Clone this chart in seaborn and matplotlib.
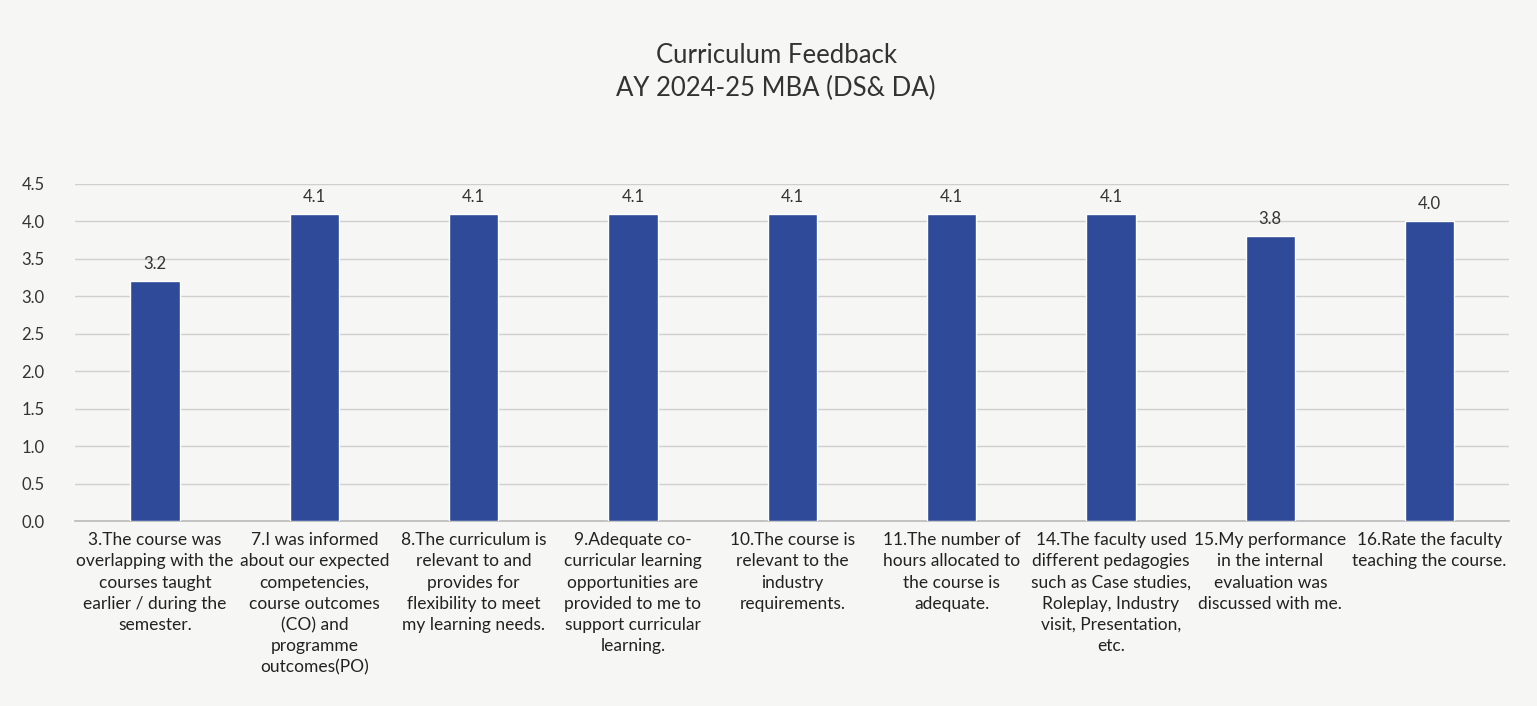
import matplotlib
matplotlib.use("Agg")
import matplotlib.pyplot as plt
import seaborn as sns
import pandas as pd

title = "Curriculum Feedback\nAY 2024-25 MBA (DS& DA)"
categories = [
    "3.The course was\noverlapping with the\ncourses taught\nearlier / during the\nsemester.",
    "7.I was informed\nabout our expected\ncompetencies,\ncourse outcomes\n(CO) and\nprogramme\noutcomes(PO)",
    "8.The curriculum is\nrelevant to and\nprovides for\nflexibility to meet\nmy learning needs.",
    "9.Adequate co-\ncurricular learning\nopportunities are\nprovided to me to\nsupport curricular\nlearning.",
    "10.The course is\nrelevant to the\nindustry\nrequirements.",
    "11.The number of\nhours allocated to\nthe course is\nadequate.",
    "14.The faculty used\ndifferent pedagogies\nsuch as Case studies,\nRoleplay, Industry\nvisit, Presentation,\netc.",
    "15.My performance\nin the internal\nevaluation was\ndiscussed with me.",
    "16.Rate the faculty\nteaching the course.",
]
values = [3.2, 4.1, 4.1, 4.1, 4.1, 4.1, 4.1, 3.8, 4.0]
yticks = [0.0, 0.5, 1.0, 1.5, 2.0, 2.5, 3.0, 3.5, 4.0, 4.5]

sns.set_theme(style="white")
plt.rcParams['font.family'] = ['Lato', 'DejaVu Sans']

df = pd.DataFrame({"q": categories, "v": values})
bg = "#f6f6f4"
fig = plt.figure(figsize=(15.37, 7.06), dpi=100, facecolor=bg)
ax = fig.add_axes([0.049, 0.262, 0.933, 0.478], facecolor=bg)

sns.barplot(data=df, x="q", y="v", color="#2e4a98", width=0.31, ax=ax,
            saturation=1, zorder=3)
ax.set_ylim(0, 4.5)
ax.set_yticks(yticks)
ax.set_yticklabels([f"{t:.1f}" for t in yticks], fontsize=12, color="#333333")
ax.yaxis.grid(True, color="#cfcfcf", linewidth=1, zorder=0)
ax.set_xlabel("")
ax.set_ylabel("")
for s in ["top", "right", "left"]:
    ax.spines[s].set_visible(False)
ax.spines["bottom"].set_color("#bdbdbd")
ax.tick_params(axis="both", length=0)
ax.tick_params(axis="y", pad=22)
ax.set_xticks(range(len(categories)))
ax.set_xticklabels(categories, fontsize=12.5, color="#222222", linespacing=1.4, ha="center")
ax.tick_params(axis="x", pad=8)

for i, v in enumerate(values):
    ax.text(i, v + 0.12, f"{v:.1f}", ha="center", va="bottom", fontsize=12, color="#333333")

fig.text(0.505, 0.898, title, ha="center", va="center", fontsize=18.5, color="#333333",
         linespacing=1.35)

fig.savefig("out.png", dpi=100, facecolor=bg)
